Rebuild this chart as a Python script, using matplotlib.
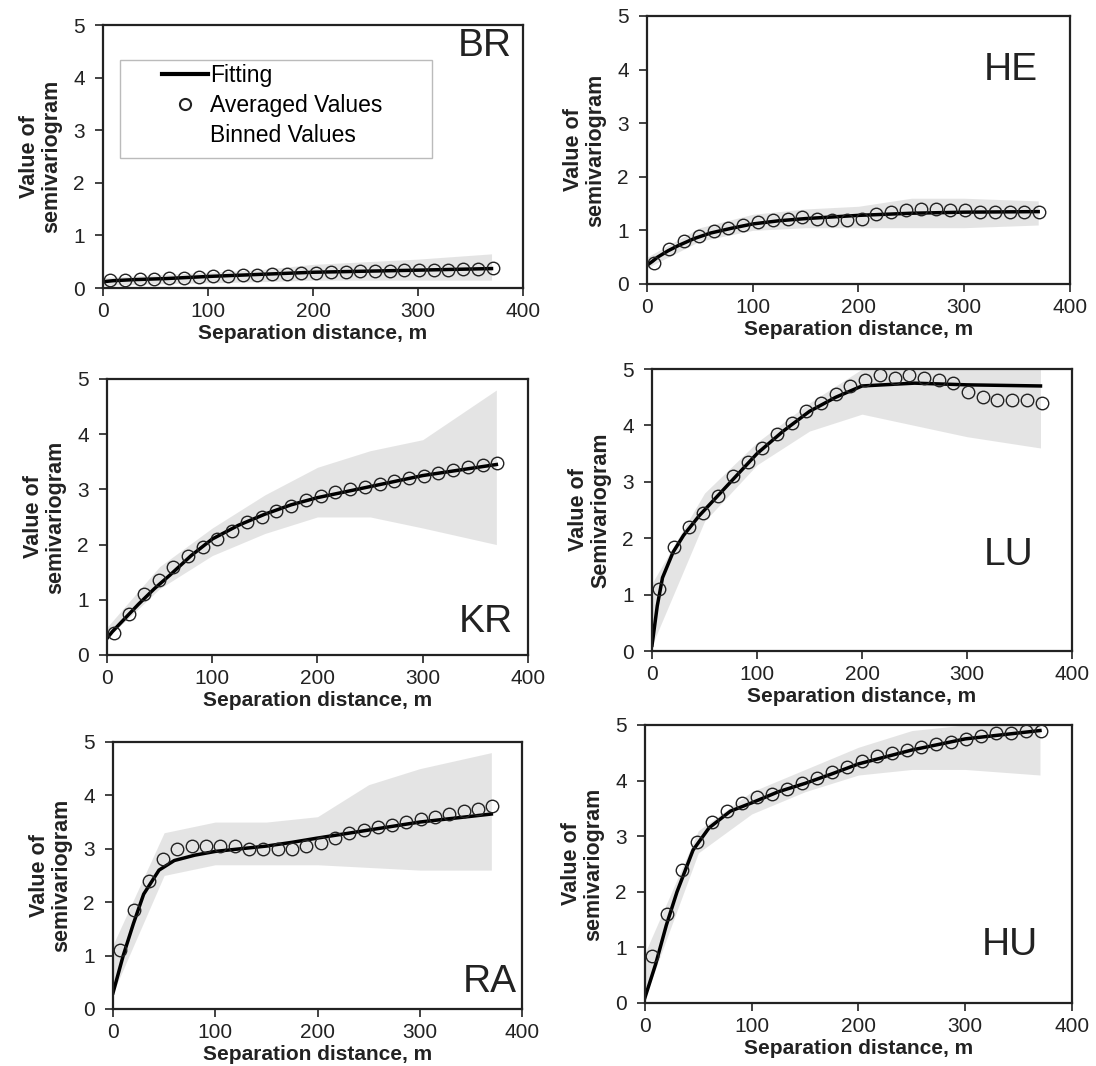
import matplotlib
matplotlib.use("Agg")
import matplotlib.pyplot as plt
from matplotlib.lines import Line2D
from matplotlib.patches import Rectangle

plt.rcParams["font.family"] = ["Liberation Sans", "DejaVu Sans"]

# averaged values (circles), same lags for every site
lag = [7, 21, 35, 49, 63, 77, 91, 105, 119, 133, 147, 161, 175, 189, 203,
       217, 231, 245, 259, 273, 287, 301, 315, 329, 343, 357, 371]

avg_br = [0.15, 0.16, 0.17, 0.18, 0.19, 0.2, 0.21, 0.22, 0.23, 0.24, 0.25, 0.26, 0.27, 0.28, 0.29,
          0.3, 0.31, 0.32, 0.33, 0.33, 0.34, 0.34, 0.35, 0.35, 0.36, 0.37, 0.38]
avg_he = [0.4, 0.65, 0.8, 0.9, 0.98, 1.05, 1.1, 1.15, 1.2, 1.22, 1.25, 1.22, 1.2, 1.2, 1.22,
          1.3, 1.35, 1.38, 1.4, 1.4, 1.38, 1.38, 1.35, 1.35, 1.35, 1.35, 1.35]
avg_kr = [0.4, 0.75, 1.1, 1.35, 1.6, 1.8, 1.95, 2.1, 2.25, 2.4, 2.5, 2.6, 2.7, 2.8, 2.88,
          2.95, 3.0, 3.05, 3.1, 3.15, 3.2, 3.25, 3.3, 3.35, 3.4, 3.45, 3.48]
avg_lu = [1.1, 1.85, 2.2, 2.45, 2.75, 3.1, 3.35, 3.6, 3.85, 4.05, 4.25, 4.4, 4.55, 4.7, 4.8,
          4.9, 4.85, 4.9, 4.85, 4.8, 4.75, 4.6, 4.5, 4.45, 4.45, 4.45, 4.4]
avg_ra = [1.1, 1.85, 2.4, 2.8, 3.0, 3.05, 3.05, 3.05, 3.05, 3.0, 3.0, 3.0, 3.0, 3.05, 3.1,
          3.2, 3.3, 3.35, 3.4, 3.45, 3.5, 3.55, 3.6, 3.65, 3.7, 3.75, 3.8]
avg_hu = [0.85, 1.6, 2.4, 2.9, 3.25, 3.45, 3.6, 3.7, 3.75, 3.85, 3.95, 4.05, 4.15, 4.25, 4.35,
          4.45, 4.5, 4.55, 4.6, 4.65, 4.7, 4.75, 4.8, 4.85, 4.85, 4.9, 4.9]

# fitted model curves
fit_x = [0, 5, 10, 20, 30, 45, 60, 80, 100, 125, 150, 175, 200, 250, 300, 370]
fit_br = [0.12, 0.13, 0.14, 0.15, 0.16, 0.17, 0.18, 0.2, 0.22, 0.24, 0.26, 0.28, 0.3, 0.32, 0.34, 0.37]
fit_he = [0.35, 0.42, 0.5, 0.62, 0.72, 0.85, 0.95, 1.04, 1.12, 1.18, 1.22, 1.25, 1.28, 1.32, 1.34, 1.35]
fit_kr = [0.3, 0.42, 0.52, 0.72, 0.92, 1.2, 1.45, 1.8, 2.1, 2.35, 2.55, 2.72, 2.85, 3.05, 3.25, 3.45]
fit_lu = [0.1, 0.8, 1.3, 1.75, 2.05, 2.4, 2.7, 3.1, 3.5, 3.9, 4.25, 4.5, 4.7, 4.75, 4.72, 4.7]
fit_ra = [0.3, 0.65, 1.0, 1.6, 2.15, 2.6, 2.78, 2.88, 2.95, 3.0, 3.05, 3.12, 3.2, 3.35, 3.5, 3.65]
fit_hu = [0.1, 0.4, 0.7, 1.4, 2.0, 2.75, 3.15, 3.45, 3.6, 3.8, 3.95, 4.12, 4.3, 4.55, 4.75, 4.9]

# envelope of the binned values cloud
band_x = [0, 50, 100, 150, 200, 250, 300, 370]
br_lo = [0.05, 0.08, 0.1, 0.12, 0.15, 0.15, 0.15, 0.15]
br_hi = [0.2, 0.25, 0.3, 0.35, 0.45, 0.5, 0.55, 0.65]
he_lo = [0.3, 0.8, 1.0, 1.05, 1.05, 1.05, 1.05, 1.1]
he_hi = [0.5, 1.05, 1.3, 1.4, 1.45, 1.6, 1.6, 1.55]
kr_lo = [0.3, 1.2, 1.8, 2.2, 2.5, 2.5, 2.3, 2.0]
kr_hi = [0.5, 1.6, 2.3, 2.9, 3.4, 3.7, 3.9, 4.8]
lu_lo = [0.1, 2.3, 3.3, 3.9, 4.2, 4.0, 3.8, 3.6]
lu_hi = [1.2, 2.8, 3.7, 4.4, 5.0, 5.0, 5.0, 5.0]
ra_lo = [0.3, 2.5, 2.7, 2.7, 2.7, 2.65, 2.6, 2.6]
ra_hi = [1.2, 3.3, 3.5, 3.5, 3.6, 4.2, 4.5, 4.8]
hu_lo = [0.1, 2.7, 3.4, 3.8, 4.1, 4.2, 4.2, 4.1]
hu_hi = [0.9, 3.1, 3.8, 4.2, 4.6, 4.9, 5.0, 5.0]

panels = [
    ("BR", [0.0940, 0.7298, 0.3832, 0.2467], avg_br, fit_br, br_lo, br_hi, (0.91, 0.92), "Value of\nsemivariogram"),
    ("HE", [0.5903, 0.7336, 0.3859, 0.2514], avg_he, fit_he, he_lo, he_hi, (0.86, 0.80), "Value of\nsemivariogram"),
    ("KR", [0.0976, 0.3856, 0.3841, 0.2589], avg_kr, fit_kr, kr_lo, kr_hi, (0.90, 0.12), "Value of\nsemivariogram"),
    ("LU", [0.5949, 0.3893, 0.3832, 0.2645], avg_lu, fit_lu, lu_lo, lu_hi, (0.85, 0.34), "Value of\nSemivariogram"),
    ("RA", [0.1031, 0.0535, 0.3732, 0.2505], avg_ra, fit_ra, ra_lo, ra_hi, (0.92, 0.10), "Value of\nsemivariogram"),
    ("HU", [0.5885, 0.0591, 0.3896, 0.2608], avg_hu, fit_hu, hu_lo, hu_hi, (0.855, 0.21), "Value of\nsemivariogram"),
]


def main():
    fig = plt.figure(figsize=(10.96, 10.66), dpi=100)
    for name, pos, avg, fit, lo, hi, lab_xy, ylab in panels:
        ax = fig.add_axes(pos)
        ax.fill_between(band_x, lo, hi, color="#dcdcdc", alpha=0.75, lw=0)
        ax.plot(fit_x, fit, color="black", lw=2.5)
        ax.plot(lag, avg, "o", ms=9, mfc="none", mec="#222222", mew=1.0)
        ax.set_xlim(0, 400)
        ax.set_ylim(0, 5)
        ax.set_xticks([0, 100, 200, 300, 400])
        ax.set_yticks([0, 1, 2, 3, 4, 5])
        ax.tick_params(direction="out", length=6, width=1.2, labelsize=15, colors="#222222")
        ax.tick_params(axis="x", pad=4)
        ax.tick_params(axis="y", pad=7)
        for sp in ax.spines.values():
            sp.set_linewidth(1.6)
            sp.set_color("#222222")
        ax.set_xlabel("Separation distance, m", fontsize=15, fontweight="bold", color="#222222", labelpad=2)
        ax.set_ylabel(ylab, fontsize=15.5, fontweight="bold", color="#222222", linespacing=1.05, labelpad=8)
        ax.text(lab_xy[0], lab_xy[1], name, transform=ax.transAxes, fontsize=28,
                ha="center", va="center", color="#222222")
        if name == "BR":
            ax.add_patch(Rectangle((0.04, 0.494), 0.743, 0.373, transform=ax.transAxes,
                                   fill=False, ec="#bbbbbb", lw=1.0))
            handles = [
                Line2D([], [], color="black", lw=3),
                Line2D([], [], ls="none", marker="o", ms=8, mfc="none", mec="#222222", mew=1.5),
                Line2D([], [], ls="none"),
            ]
            ax.legend(handles, ["Fitting", "Averaged Values", "Binned Values"],
                      loc="upper left", bbox_to_anchor=(0.14, 0.85), fontsize=16.5,
                      frameon=False, handlelength=2.0, handletextpad=0.1,
                      borderpad=0, borderaxespad=0, labelspacing=0.3)
    fig.savefig("out.png", dpi=100)


if __name__ == "__main__":
    main()
